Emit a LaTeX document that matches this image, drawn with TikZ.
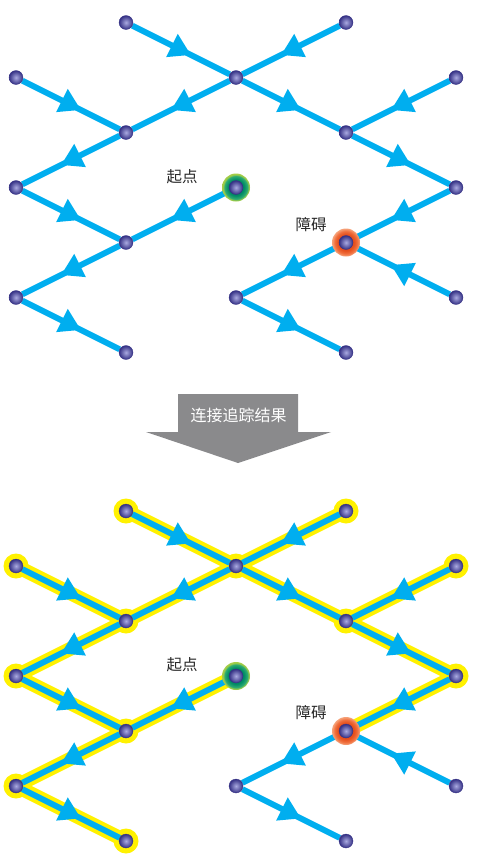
\documentclass[tikz,border=0pt]{standalone}
\usepackage{fontspec}
\newfontfamily\cjk{Noto Sans CJK SC}
\usetikzlibrary{decorations.markings}
\pgfdeclarelayer{hl}
\pgfdeclarelayer{wirelayer}
\pgfsetlayers{hl,wirelayer,main}
\definecolor{wireblue}{RGB}{0,174,239}
\definecolor{hlyellow}{RGB}{255,241,0}
\definecolor{ballin}{RGB}{170,170,225}
\definecolor{ballout}{RGB}{52,48,132}
\definecolor{gA}{RGB}{0,138,100}
\definecolor{gB}{RGB}{50,175,115}
\definecolor{gC}{RGB}{165,205,70}
\definecolor{oA}{RGB}{228,78,28}
\definecolor{oB}{RGB}{240,110,60}
\definecolor{oC}{RGB}{246,165,125}
\definecolor{arrowgray}{RGB}{138,138,140}
\definecolor{labelgray}{RGB}{40,40,40}
\pgfdeclareradialshading{greenring}{\pgfpoint{0bp}{0bp}}{color(0bp)=(gA); color(14bp)=(gA); color(21bp)=(gB); color(23bp)=(gC); color(25bp)=(gC); color(50bp)=(gC)}
\pgfdeclareradialshading{orangering}{\pgfpoint{0bp}{0bp}}{color(0bp)=(oA); color(14bp)=(oA); color(20bp)=(oB); color(25bp)=(oC); color(50bp)=(oC)}
\tikzset{
  ball/.style={circle, minimum size=14pt, inner sep=0pt, inner color=ballin, outer color=ballout, draw=ballout, line width=0.3pt},
  startring/.style={circle, minimum size=28pt, inner sep=0pt, shading=greenring},
  obstring/.style={circle, minimum size=28pt, inner sep=0pt, shading=orangering},
  hlring/.style={circle, minimum size=25pt, inner sep=0pt, fill=hlyellow},
  wire/.style={draw=wireblue, line width=6pt, postaction={decorate},
    decoration={markings, mark=at position 0.5 with {\fill[wireblue] (11pt,0pt) -- (-10pt,13pt) -- (-10pt,-13pt) -- cycle;}}},
  hlwire/.style={draw=hlyellow, line width=14pt},
  lbl/.style={font=\cjk\fontsize{15.5}{18}\selectfont, text=labelgray, inner sep=0pt},
  arrowtext/.style={font=\cjk\fontsize{16}{19}\selectfont, text=white, inner sep=0pt}
}
\newcommand\drawnet[2]{%
  \node[startring] (#1s) at (236,#2+165) {};
  \node[obstring] (#1o) at (346,#2+220) {};
  \foreach \cc/\rr in {1/0,3/0,0/1,2/1,4/1,1/2,3/2,0/3,2/3,4/3,1/4,3/4,0/5,2/5,4/5,1/6,3/6}{%
    \node[ball] (#1\cc\rr) at ({16+110*\cc},{#2+55*\rr}) {};
  }
  \node[lbl] (#1startlbl) at (182,#2+154) {起点};
  \node[lbl] (#1obstlbl) at (311,#2+202) {障碍};
  \begin{pgfonlayer}{wirelayer}
    \foreach \ea/\eb in {10/21,30/21,01/12,21/12,21/32,41/32,12/03,32/43,03/14,23/14,43/34,14/05,34/25,45/34,05/16,25/36}{%
      \draw[wire] (#1\ea) -- (#1\eb);
    }
  \end{pgfonlayer}
}
\begin{document}
\begin{tikzpicture}[x=1pt,y=-1pt]
\useasboundingbox (0,0) rectangle (481,865);
\drawnet{t}{22.5}
\drawnet{b}{511}
\begin{pgfonlayer}{hl}
  \foreach \ea/\eb in {10/21,30/21,01/12,21/12,21/32,41/32,12/03,32/43,03/14,23/14,43/34,14/05,05/16}{%
    \draw[hlwire] (b\ea) -- (b\eb);
  }
  \foreach \nn in {10,30,01,21,41,12,32,03,43,14,05,16}{%
    \node[hlring] (bh\nn) at (b\nn) {};
  }
\end{pgfonlayer}
\fill[arrowgray] (178,394) -- (298,394) -- (298,432) -- (331,432) -- (238,463) -- (146,432) -- (178,432) -- cycle;
\node[arrowtext] (arrowlbl) at (238.5,415.5) {连接追踪结果};
\end{tikzpicture}
\end{document}
